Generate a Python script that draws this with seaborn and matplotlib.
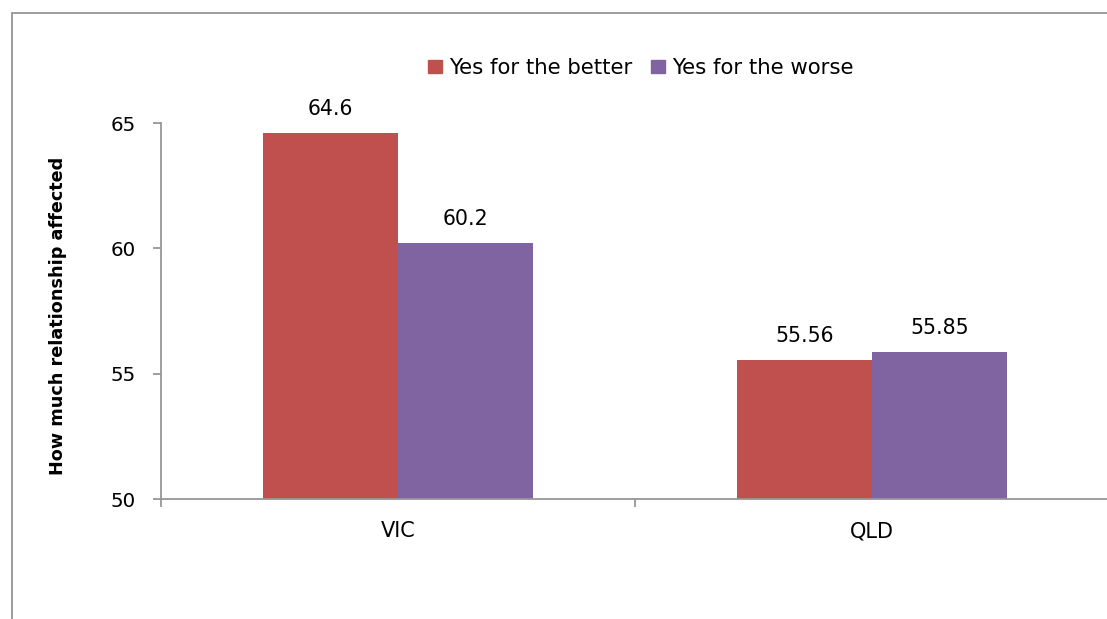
import matplotlib
matplotlib.use("Agg")
import matplotlib.pyplot as plt
from matplotlib.patches import Rectangle
import seaborn as sns
import pandas as pd

states = ["VIC", "QLD"]
responses = ["Yes for the better", "Yes for the worse"]
better = [64.6, 55.56]
worse = [60.2, 55.85]
value_labels_better = ["64.6", "55.56"]
value_labels_worse = ["60.2", "55.85"]
colors = ["#C0504D", "#8064A2"]

df = pd.DataFrame({
    "state": states * 2,
    "response": [responses[0]] * 2 + [responses[1]] * 2,
    "value": better + worse,
    "label": value_labels_better + value_labels_worse,
})

sns.set_theme(style="white")
plt.rcParams["font.family"] = ["DejaVu Sans"]
plt.rcParams["text.color"] = "black"
plt.rcParams["axes.labelcolor"] = "black"

W, H = 1107, 619
fig = plt.figure(figsize=(W / 100, H / 100), dpi=100)
ax = fig.add_axes([161 / W, 1 - 499 / H, (1109 - 161) / W, (499 - 123) / H])

sns.barplot(data=df, x="state", y="value", hue="response", order=states,
            hue_order=responses, palette=colors, width=2 / 3.5, gap=0,
            saturation=1, ax=ax, legend=False, linewidth=0)

ax.set_ylim(50, 65)
ax.set_xlim(-0.5, 1.5)
ax.set_yticks([50, 55, 60, 65])
ax.set_yticklabels(["50", "55", "60", "65"])
ax.set_xlabel("")
ax.set_ylabel("How much relationship affected", fontsize=12.7, fontweight="bold",
              color="black")
ax.yaxis.set_label_coords(-0.0995, 0.487)

axis_gray = "#969696"
for side in ["top", "right"]:
    ax.spines[side].set_visible(False)
for side in ["left", "bottom"]:
    ax.spines[side].set_color(axis_gray)
    ax.spines[side].set_linewidth(1.3)

ax.tick_params(axis="y", which="major", direction="out", length=6, width=1.3,
               color=axis_gray, left=True, labelsize=14.3, pad=12, labelcolor="black")
ax.tick_params(axis="x", which="major", length=0, labelsize=15, pad=16,
               labelcolor="black")
ax.set_xticks([-0.5, 0.5, 1.5], minor=True)
ax.tick_params(axis="x", which="minor", direction="out", length=6, width=1.3,
               color=axis_gray, bottom=True)

# value labels above each bar
for container, labels in zip(ax.containers, [value_labels_better, value_labels_worse]):
    ax.bar_label(container, labels=labels, padding=10, fontsize=14.8, color="black")

handles = [Rectangle((0, 0), 1, 1, color=c) for c in colors]
fig.legend(handles, responses, loc="center", bbox_to_anchor=(641 / W, 1 - 68 / H),
           ncol=2, frameon=False, fontsize=15.3, handlelength=0.62, handleheight=0.62,
           handletextpad=0.35, columnspacing=0.9, labelcolor="black")

# chart area frame
fig.patches.append(Rectangle((12 / W, -0.1), 1.2, 1 - 13 / H + 0.1,
                             transform=fig.transFigure, fill=False,
                             edgecolor="#8c8c8c", linewidth=1.2))

fig.savefig("out.png", dpi=100)
